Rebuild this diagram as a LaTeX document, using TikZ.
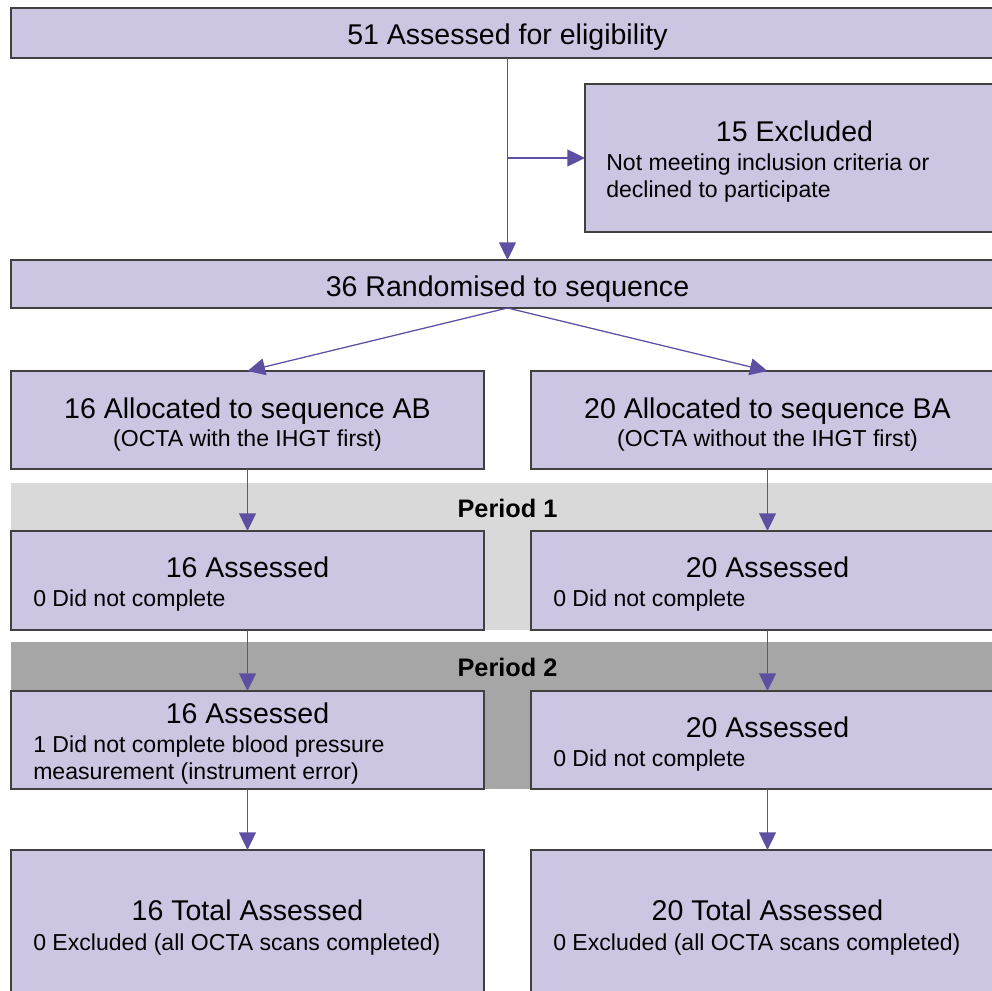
\documentclass[tikz,border=0pt]{standalone}
\usepackage{fontspec}
\setmainfont{Liberation Sans}
\usepackage{xcolor}
\usepackage{tikz}
\usetikzlibrary{arrows.meta}
\newcommand{\flowBox}[5]{
	\node[box, minimum width = #4*0.025cm, minimum height = #5*0.025cm] (#1) at (#2, #3) {};
}
\newcommand{\boxTitle}[4]{
	\node[title] (#1) at (#2, #3) {#4};
}
\newcommand{\boxLine}[4]{
	\node[subline] (#1) at (#2, #3) {#4};
}
\definecolor{boxFill}{HTML}{CCC6E3}
\definecolor{boxEdge}{HTML}{404040}
\definecolor{flowLine}{HTML}{5E4FA2}
\definecolor{periodOne}{HTML}{D9D9D9}
\definecolor{periodTwo}{HTML}{A6A6A6}
\tikzset{
	box/.style = {draw = boxEdge, fill = boxFill, line width = 0.8pt, anchor = north west, inner sep = 0pt, outer sep = 0pt},
	band/.style = {anchor = north west, inner sep = 0pt, outer sep = 0pt},
	title/.style = {anchor = base, inner sep = 0pt, font = \fontsize{20.3}{24}\selectfont},
	subcentre/.style = {anchor = base, inner sep = 0pt, font = \fontsize{16.4}{19}\selectfont},
	subline/.style = {anchor = base west, inner sep = 0pt, font = \fontsize{16.4}{19}\selectfont},
	period/.style = {anchor = base, inner sep = 0pt, font = \fontsize{18}{21}\bfseries},
	flow/.style = {draw = flowLine, line width = 0.9pt, -{Triangle[length = 12.5pt, width = 12pt]}}
}

\begin{document}
\begin{tikzpicture}[x = 0.025cm, y = -0.025cm]%

		\useasboundingbox (0, 0) rectangle (992, 991);
		\clip (0, 0) rectangle (992, 991);

		% period bands
		\node[band, fill = periodOne, minimum width = 993*0.025cm, minimum height = 147*0.025cm] (bandOne) at (11, 483) {};
		\node[band, fill = periodTwo, minimum width = 993*0.025cm, minimum height = 147*0.025cm] (bandTwo) at (11, 642) {};
		\node[period] (labelOne) at (507.5, 517) {Period 1};
		\node[period] (labelTwo) at (507.5, 676) {Period 2};

		% enrolment
		\flowBox{elig}{11}{8}{993}{50}
		\flowBox{excl}{585}{84}{419}{148}
		\flowBox{rand}{11}{260}{993}{48}

		% allocation
		\flowBox{allocAB}{11}{371}{473}{98}
		\flowBox{allocBA}{531}{371}{473}{98}

		% period 1
		\flowBox{oneAB}{11}{531}{473}{99}
		\flowBox{oneBA}{531}{531}{473}{99}

		% period 2
		\flowBox{twoAB}{11}{691}{473}{98}
		\flowBox{twoBA}{531}{691}{473}{98}

		% totals
		\flowBox{totAB}{11}{850}{473}{170}
		\flowBox{totBA}{531}{850}{473}{170}

		% texts
		\boxTitle{eligText}{507.5}{45}{51 Assessed for eligibility}
		\boxTitle{exclText}{794.5}{142}{15 Excluded}
		\boxLine{exclLineA}{606}{171}{Not meeting inclusion criteria or}
		\boxLine{exclLineB}{606}{198}{declined to participate}
		\boxTitle{randText}{507.5}{296}{36 Randomised to sequence}

		\boxTitle{allocABText}{247.5}{418}{16 Allocated to sequence AB}
		\node[subcentre] (allocABSub) at (247.5, 446) {(OCTA with the IHGT first)};
		\boxTitle{allocBAText}{767.5}{418}{20 Allocated to sequence BA}
		\node[subcentre] (allocBASub) at (767.5, 446) {(OCTA without the IHGT first)};

		\boxTitle{oneABText}{247.5}{577}{16 Assessed}
		\boxLine{oneABLine}{33}{606}{0 Did not complete}
		\boxTitle{oneBAText}{767.5}{577}{20 Assessed}
		\boxLine{oneBALine}{553}{606}{0 Did not complete}

		\boxTitle{twoABText}{247.5}{723}{16 Assessed}
		\boxLine{twoABLineA}{33}{752}{1 Did not complete blood pressure}
		\boxLine{twoABLineB}{33}{779}{measurement (instrument error)}
		\boxTitle{twoBAText}{767.5}{737}{20 Assessed}
		\boxLine{twoBALine}{553}{766}{0 Did not complete}

		\boxTitle{totABText}{247.5}{920}{16 Total Assessed}
		\boxLine{totABLine}{33}{950}{0 Excluded (all OCTA scans completed)}
		\boxTitle{totBAText}{767.5}{920}{20 Total Assessed}
		\boxLine{totBALine}{553}{950}{0 Excluded (all OCTA scans completed)}

		% connectors
		\coordinate (split) at (elig.south |- excl.west);
		\draw[flow] (elig.south) -- (rand.north);
		\draw[flow] (split) -- (excl.west);
		\draw[flow] (rand.south) -- (allocAB.north);
		\draw[flow] (rand.south) -- (allocBA.north);
		\draw[flow] (allocAB.south) -- (oneAB.north);
		\draw[flow] (allocBA.south) -- (oneBA.north);
		\draw[flow] (oneAB.south) -- (twoAB.north);
		\draw[flow] (oneBA.south) -- (twoBA.north);
		\draw[flow] (twoAB.south) -- (totAB.north);
		\draw[flow] (twoBA.south) -- (totBA.north);

	\end{tikzpicture}
\end{document}
